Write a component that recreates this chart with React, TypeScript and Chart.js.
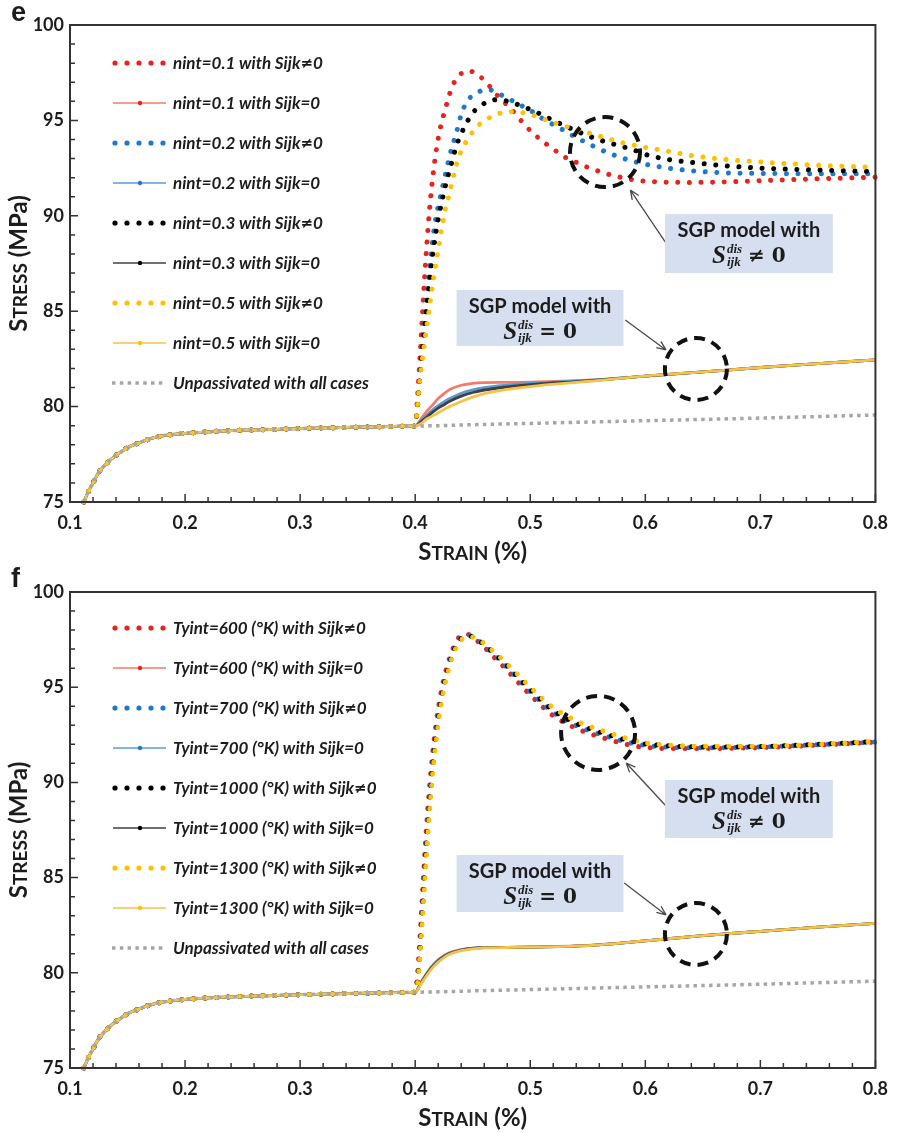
import React, { useEffect, useRef } from "react";
import { Chart, registerables } from "chart.js";

Chart.register(...registerables);

// ---------------- DATA ----------------
// common elastic/plastic part (all series, both panels)
const X_ELASTIC = [0.112, 0.116, 0.12, 0.125, 0.13, 0.135, 0.14, 0.145, 0.15, 0.16, 0.17, 0.18, 0.19, 0.2, 0.22, 0.24, 0.26, 0.28, 0.3, 0.32, 0.34, 0.36, 0.38, 0.39];
const Y_ELASTIC = [75.0, 75.55, 76.0, 76.55, 76.9, 77.2, 77.45, 77.65, 77.85, 78.1, 78.32, 78.46, 78.54, 78.6, 78.68, 78.74, 78.78, 78.81, 78.85, 78.88, 78.91, 78.93, 78.96, 78.97];

// unpassivated tail
const X_UNPASS = [0.4, 0.42, 0.45, 0.5, 0.55, 0.6, 0.65, 0.7, 0.75, 0.8];
const Y_UNPASS = [78.98, 79.0, 79.05, 79.12, 79.19, 79.26, 79.33, 79.4, 79.48, 79.56];

// Sijk = 0 tails (shared strain grid)
const X_ZERO = [0.4, 0.405, 0.41, 0.415, 0.42, 0.425, 0.43, 0.44, 0.45, 0.46, 0.48, 0.5, 0.55, 0.6, 0.65, 0.7, 0.75, 0.8];
const E_Y_N01_ZERO = [78.98, 79.35, 79.75, 80.08, 80.42, 80.68, 80.9, 81.12, 81.22, 81.26, 81.27, 81.28, 81.38, 81.6, 81.82, 82.05, 82.25, 82.45];
const E_Y_N02_ZERO = [78.98, 79.25, 79.55, 79.82, 80.05, 80.25, 80.42, 80.7, 80.88, 81.0, 81.13, 81.22, 81.37, 81.6, 81.82, 82.05, 82.25, 82.45];
const E_Y_N03_ZERO = [78.98, 79.2, 79.45, 79.7, 79.92, 80.1, 80.28, 80.55, 80.74, 80.87, 81.03, 81.15, 81.35, 81.6, 81.82, 82.05, 82.25, 82.45];
const E_Y_N05_ZERO = [78.98, 79.1, 79.35, 79.5, 79.68, 79.85, 80.0, 80.27, 80.5, 80.68, 80.9, 81.05, 81.32, 81.6, 81.82, 82.05, 82.25, 82.45];

const F_Y_T600_ZERO = [78.98, 79.5, 79.98, 80.38, 80.68, 80.9, 81.06, 81.22, 81.3, 81.33, 81.34, 81.36, 81.44, 81.68, 81.95, 82.18, 82.4, 82.6];
const F_Y_T700_ZERO = [78.98, 79.47, 79.95, 80.35, 80.65, 80.87, 81.03, 81.2, 81.29, 81.32, 81.33, 81.35, 81.43, 81.68, 81.95, 82.18, 82.4, 82.6];
const F_Y_T1000_ZERO = [78.98, 79.45, 79.92, 80.32, 80.62, 80.85, 81.01, 81.19, 81.28, 81.32, 81.33, 81.35, 81.43, 81.68, 81.95, 82.18, 82.4, 82.6];
const F_Y_T1300_ZERO = [78.98, 79.4, 79.86, 80.26, 80.56, 80.8, 80.97, 81.16, 81.26, 81.31, 81.33, 81.35, 81.43, 81.68, 81.95, 82.18, 82.4, 82.6];

// Sijk != 0 tails, panel e
const E_X_DIS = [0.4, 0.402, 0.404, 0.406, 0.408, 0.41, 0.412, 0.414, 0.416, 0.418, 0.42, 0.423, 0.426, 0.429, 0.432, 0.436, 0.44, 0.445, 0.45, 0.456, 0.462, 0.47, 0.478, 0.486, 0.494, 0.502, 0.51, 0.52, 0.53, 0.54, 0.55, 0.56, 0.57, 0.58, 0.59, 0.6, 0.62, 0.64, 0.67, 0.7, 0.75, 0.8];
const E_Y_N01_DIS = [78.98, 80.5, 82.4, 84.5, 86.6, 88.4, 90.0, 91.3, 92.4, 93.3, 94.05, 94.9, 95.55, 96.2, 96.75, 97.2, 97.45, 97.6, 97.55, 97.32, 96.98, 96.4, 95.92, 95.42, 94.85, 94.35, 93.95, 93.5, 93.08, 92.8, 92.54, 92.33, 92.14, 92.0, 91.88, 91.82, 91.76, 91.75, 91.78, 91.84, 91.94, 92.02];
const E_Y_N02_DIS = [78.98, 80.0, 81.4, 82.8, 84.2, 85.6, 86.9, 88.1, 89.1, 89.9, 90.5, 91.3, 92.1, 92.9, 93.6, 94.4, 95.3, 96.0, 96.3, 96.52, 96.63, 96.5, 96.22, 95.98, 95.72, 95.45, 95.12, 94.78, 94.45, 94.1, 93.8, 93.5, 93.25, 93.03, 92.85, 92.7, 92.5, 92.36, 92.25, 92.22, 92.2, 92.2];
const E_Y_N03_DIS = [78.98, 80.0, 81.5, 82.8, 84.0, 85.2, 86.3, 87.4, 88.3, 89.1, 89.8, 90.7, 91.5, 92.2, 92.85, 93.7, 94.3, 94.9, 95.4, 95.72, 95.96, 96.08, 96.04, 95.9, 95.72, 95.52, 95.3, 95.0, 94.72, 94.45, 94.2, 93.98, 93.8, 93.63, 93.45, 93.22, 92.95, 92.8, 92.62, 92.5, 92.4, 92.32];
const E_Y_N05_DIS = [78.98, 80.0, 81.4, 82.4, 83.3, 84.2, 85.0, 85.9, 86.7, 87.5, 88.2, 89.3, 90.3, 91.0, 91.75, 92.7, 93.4, 93.95, 94.4, 94.8, 95.05, 95.3, 95.43, 95.46, 95.4, 95.28, 95.11, 94.9, 94.7, 94.52, 94.36, 94.18, 94.0, 93.83, 93.7, 93.58, 93.38, 93.16, 92.95, 92.82, 92.65, 92.54];

// Sijk != 0 tails, panel f
const F_X_DIS = [0.4, 0.402, 0.404, 0.406, 0.408, 0.41, 0.412, 0.414, 0.416, 0.418, 0.42, 0.423, 0.426, 0.429, 0.432, 0.436, 0.44, 0.444, 0.448, 0.452, 0.457, 0.462, 0.468, 0.474, 0.48, 0.487, 0.494, 0.5, 0.507, 0.515, 0.522, 0.53, 0.54, 0.55, 0.56, 0.57, 0.58, 0.59, 0.6, 0.62, 0.65, 0.7, 0.75, 0.8];
const F_Y_T600_DIS = [78.98, 79.9, 81.7, 83.8, 85.9, 87.8, 89.4, 90.8, 92.0, 93.0, 93.85, 94.9, 95.7, 96.35, 96.9, 97.45, 97.72, 97.8, 97.72, 97.52, 97.28, 96.98, 96.6, 96.25, 95.88, 95.42, 94.96, 94.6, 94.18, 93.74, 93.42, 93.13, 92.84, 92.6, 92.4, 92.22, 92.05, 91.92, 91.84, 91.78, 91.78, 91.83, 91.96, 92.12];
const F_Y_T700_DIS = [78.98, 79.6, 81.2, 83.2, 85.2, 87.1, 88.8, 90.3, 91.6, 92.6, 93.5, 94.6, 95.45, 96.15, 96.75, 97.3, 97.62, 97.75, 97.7, 97.55, 97.35, 97.08, 96.72, 96.38, 96.02, 95.58, 95.12, 94.75, 94.35, 93.9, 93.58, 93.28, 92.98, 92.74, 92.53, 92.35, 92.18, 92.04, 91.94, 91.85, 91.82, 91.86, 91.98, 92.12];
const F_Y_T1000_DIS = [78.98, 79.5, 81.0, 82.9, 84.9, 86.8, 88.5, 90.0, 91.35, 92.4, 93.3, 94.45, 95.35, 96.05, 96.65, 97.22, 97.55, 97.7, 97.68, 97.56, 97.38, 97.14, 96.8, 96.47, 96.12, 95.68, 95.24, 94.87, 94.47, 94.02, 93.7, 93.4, 93.1, 92.86, 92.65, 92.46, 92.28, 92.13, 92.02, 91.92, 91.86, 91.88, 92.0, 92.14];
const F_Y_T1300_DIS = [78.98, 79.4, 80.8, 82.6, 84.5, 86.4, 88.1, 89.6, 91.0, 92.1, 93.05, 94.25, 95.2, 95.92, 96.55, 97.12, 97.48, 97.65, 97.66, 97.58, 97.42, 97.2, 96.88, 96.56, 96.22, 95.8, 95.37, 95.0, 94.6, 94.16, 93.84, 93.54, 93.24, 92.98, 92.77, 92.57, 92.38, 92.22, 92.08, 91.96, 91.9, 91.9, 92.0, 92.15];

const LABELS_E = [
  "nint=0.1 with Sijk≠0", "nint=0.1 with Sijk=0",
  "nint=0.2 with Sijk≠0", "nint=0.2 with Sijk=0",
  "nint=0.3 with Sijk≠0", "nint=0.3 with Sijk=0",
  "nint=0.5 with Sijk≠0", "nint=0.5 with Sijk=0",
  "Unpassivated with all cases",
];
const LABELS_F = [
  "Tyint=600 (°K) with Sijk≠0", "Tyint=600 (°K) with Sijk=0",
  "Tyint=700 (°K) with Sijk≠0", "Tyint=700 (°K) with Sijk=0",
  "Tyint=1000 (°K) with Sijk≠0", "Tyint=1000 (°K) with Sijk=0",
  "Tyint=1300 (°K) with Sijk≠0", "Tyint=1300 (°K) with Sijk=0",
  "Unpassivated with all cases",
];

const X_TICKS_MIN = 0.1, X_TICKS_MAX = 0.8, X_STEP = 0.1;
const Y_TICKS_MIN = 75, Y_TICKS_MAX = 100, Y_STEP = 5;

// ---------------- STYLE ----------------
const DOT_COLORS = ["#e8221c", "#1f78c8", "#000000", "#ffc000"];
const LINE_COLORS = ["#f47a6a", "#5b9bd5", "#404040", "#f5c24a"];
const GRAY = "#a6a6a6";
const KINDS = ["dot", "line", "dot", "line", "dot", "line", "dot", "line", "gray"];

// annotation anchors in data coordinates
const E_CIRCLES = [{ x: 0.565, y: 93.34, r: 35 }, { x: 0.644, y: 81.97, r: 31 }];
const E_BOXES = [{ x1: 0.617, x2: 0.763, y1: 90.09, y2: 87.0, op: "≠" }, { x1: 0.436, x2: 0.581, y1: 86.11, y2: 83.18, op: "=" }];
const E_ARROWS = [{ x1: 0.618, y1: 88.57, x2: 0.587, y2: 91.35 }, { x1: 0.5826, y1: 84.54, x2: 0.618, y2: 82.97 }];
const F_CIRCLES = [{ x: 0.559, y: 92.6, r: 37 }, { x: 0.644, y: 82.04, r: 31 }];
const F_BOXES = [{ x1: 0.617, x2: 0.763, y1: 90.13, y2: 87.08, op: "≠" }, { x1: 0.436, x2: 0.581, y1: 86.19, y2: 83.19, op: "=" }];
const F_ARROWS = [{ x1: 0.618, y1: 88.76, x2: 0.5834, y2: 91.02 }, { x1: 0.5817, y1: 84.72, x2: 0.618, y2: 83.04 }];

const pts = (xs: number[], ys: number[]) => xs.map((x, i) => ({ x, y: ys[i] }));
const withElastic = (xs: number[], ys: number[]) => pts(X_ELASTIC, Y_ELASTIC).concat(pts(xs, ys));

function dotted(label: string, color: string, data: any[]) {
  return {
    label, data, borderColor: color, backgroundColor: color, borderWidth: 5,
    borderDash: [0.01, 11.6], borderCapStyle: "round", pointRadius: 0, pointHoverRadius: 0,
    showLine: true, fill: false, cubicInterpolationMode: "monotone", clip: 6,
  };
}
function solid(label: string, color: string, data: any[]) {
  return {
    label, data, borderColor: color, backgroundColor: color, borderWidth: 2.8,
    pointRadius: 0, pointHoverRadius: 0, showLine: true, fill: false, cubicInterpolationMode: "monotone", clip: 6,
  };
}
function grayDots(label: string, data: any[]) {
  return {
    label, data, borderColor: GRAY, backgroundColor: GRAY, borderWidth: 3.5,
    borderDash: [3.5, 4.3], borderCapStyle: "butt", pointRadius: 0, pointHoverRadius: 0,
    showLine: true, fill: false, cubicInterpolationMode: "monotone", clip: 6,
  };
}

function buildE() {
  const ds: any[] = [
    dotted(LABELS_E[0], DOT_COLORS[0], withElastic(E_X_DIS, E_Y_N01_DIS)),
    solid(LABELS_E[1], LINE_COLORS[0], withElastic(X_ZERO, E_Y_N01_ZERO)),
    dotted(LABELS_E[2], DOT_COLORS[1], withElastic(E_X_DIS, E_Y_N02_DIS)),
    solid(LABELS_E[3], LINE_COLORS[1], withElastic(X_ZERO, E_Y_N02_ZERO)),
    dotted(LABELS_E[4], DOT_COLORS[2], withElastic(E_X_DIS, E_Y_N03_DIS)),
    solid(LABELS_E[5], LINE_COLORS[2], withElastic(X_ZERO, E_Y_N03_ZERO)),
    dotted(LABELS_E[6], DOT_COLORS[3], withElastic(E_X_DIS, E_Y_N05_DIS)),
    solid(LABELS_E[7], LINE_COLORS[3], withElastic(X_ZERO, E_Y_N05_ZERO)),
    grayDots(LABELS_E[8], withElastic(X_UNPASS, Y_UNPASS)),
  ];
  ds.forEach((d, i) => (d.order = -i));
  return ds;
}
function buildF() {
  const ds: any[] = [
    dotted(LABELS_F[0], DOT_COLORS[0], withElastic(F_X_DIS, F_Y_T600_DIS)),
    solid(LABELS_F[1], LINE_COLORS[0], withElastic(X_ZERO, F_Y_T600_ZERO)),
    dotted(LABELS_F[2], DOT_COLORS[1], withElastic(F_X_DIS, F_Y_T700_DIS)),
    solid(LABELS_F[3], LINE_COLORS[1], withElastic(X_ZERO, F_Y_T700_ZERO)),
    dotted(LABELS_F[4], DOT_COLORS[2], withElastic(F_X_DIS, F_Y_T1000_DIS)),
    solid(LABELS_F[5], LINE_COLORS[2], withElastic(X_ZERO, F_Y_T1000_ZERO)),
    dotted(LABELS_F[6], DOT_COLORS[3], withElastic(F_X_DIS, F_Y_T1300_DIS)),
    solid(LABELS_F[7], LINE_COLORS[3], withElastic(X_ZERO, F_Y_T1300_ZERO)),
    grayDots(LABELS_F[8], withElastic(X_UNPASS, Y_UNPASS)),
  ];
  ds.forEach((d, i) => (d.order = -i));
  return ds;
}

const TEXT = "#1c1c1c";
const TITLE_FONT = "Lato";
const LEGEND_FONT = `italic bold 17px ${TITLE_FONT}`;
const NEQ_FONT = 'oblique bold 15px "DejaVu Sans"';

function drawCaps(ctx: CanvasRenderingContext2D, parts: { t: string; s: number }[], cx: number, cy: number, rot: number) {
  ctx.save();
  ctx.translate(cx, cy);
  ctx.rotate(rot);
  const widths = parts.map((p) => {
    ctx.font = `bold ${p.s}px ${TITLE_FONT}`;
    return ctx.measureText(p.t).width;
  });
  const total = widths.reduce((a, b) => a + b, 0);
  let x = -total / 2;
  const big = Math.max(...parts.map((p) => p.s));
  ctx.fillStyle = TEXT;
  ctx.textAlign = "left";
  ctx.textBaseline = "alphabetic";
  parts.forEach((p, i) => {
    ctx.font = `bold ${p.s}px ${TITLE_FONT}`;
    ctx.fillText(p.t, x, big * 0.36);
    x += widths[i];
  });
  ctx.restore();
}

function drawLegendText(ctx: CanvasRenderingContext2D, text: string, x: number, y: number) {
  const segs = text.split("≠");
  ctx.textAlign = "left";
  ctx.textBaseline = "middle";
  ctx.fillStyle = TEXT;
  segs.forEach((s, i) => {
    ctx.font = LEGEND_FONT;
    ctx.fillText(s, x, y);
    x += ctx.measureText(s).width;
    if (i < segs.length - 1) {
      ctx.font = NEQ_FONT;
      ctx.fillText("≠", x, y);
      x += ctx.measureText("≠").width;
    }
  });
}

function drawMathBox(ctx: CanvasRenderingContext2D, b: any, xs: any, ys: any) {
  const x1 = xs.getPixelForValue(b.x1), x2 = xs.getPixelForValue(b.x2);
  const y1 = ys.getPixelForValue(b.y1), y2 = ys.getPixelForValue(b.y2);
  ctx.fillStyle = "#d6dff0";
  ctx.fillRect(x1, y1, x2 - x1, y2 - y1);
  const cx = (x1 + x2) / 2;
  ctx.fillStyle = TEXT;
  ctx.textAlign = "center";
  ctx.textBaseline = "alphabetic";
  ctx.font = `bold 20px ${TITLE_FONT}`;
  ctx.fillText("SGP model with", cx, y1 + 23);
  const fS = 'italic bold 25px "Liberation Serif"';
  const fSm = 'italic bold 13px "Liberation Serif"';
  const fOp = 'bold 20px "DejaVu Serif"';
  ctx.textAlign = "left";
  ctx.font = fS; const wS = ctx.measureText("S").width;
  ctx.font = fSm; const wSup = Math.max(ctx.measureText("dis").width, ctx.measureText("ijk").width);
  ctx.font = fOp; const opTxt = b.op + " 0"; const wOp = ctx.measureText(opTxt).width;
  const gap = 6;
  const total = wS + 1 + wSup + gap + wOp;
  let x = cx - total / 2;
  const base = y1 + 49;
  ctx.font = fS; ctx.fillText("S", x, base); x += wS + 1;
  ctx.font = fSm; ctx.fillText("dis", x, base - 10); ctx.fillText("ijk", x, base + 3);
  x += wSup + gap;
  ctx.font = fOp; ctx.fillText(opTxt, x, base - 1);
}

function makeDecor(cfg: any) {
  return {
    id: "decor" + cfg.letter,
    afterDraw(chart: any) {
      const { ctx, chartArea: a, scales } = chart;
      const xs = scales.x, ys = scales.y;
      ctx.save();
      // frame
      ctx.strokeStyle = "#333";
      ctx.lineWidth = 2;
      ctx.setLineDash([]);
      ctx.strokeRect(a.left, a.top, a.right - a.left, a.bottom - a.top);
      // inward ticks
      ctx.lineWidth = 1.5;
      ctx.beginPath();
      for (let k = 0; k <= 35; k++) {
        const px = xs.getPixelForValue(X_TICKS_MIN + k * 0.02);
        const len = k % 5 === 0 ? 8 : 5;
        ctx.moveTo(px, a.bottom);
        ctx.lineTo(px, a.bottom - len);
      }
      for (let k = 0; k <= 25; k++) {
        const py = ys.getPixelForValue(Y_TICKS_MIN + k);
        const len = k % 5 === 0 ? 8 : 5;
        ctx.moveTo(a.left, py);
        ctx.lineTo(a.left + len, py);
      }
      ctx.stroke();

      // axis titles
      drawCaps(ctx, [{ t: "S", s: 24 }, { t: "TRESS", s: 19 }, { t: " (MPa)", s: 24 }], 18, (a.top + a.bottom) / 2, -Math.PI / 2);
      drawCaps(ctx, [{ t: "S", s: 24 }, { t: "TRAIN", s: 19 }, { t: " (%)", s: 24 }], (a.left + a.right) / 2, a.bottom + 49, 0);

      // panel letter
      ctx.fillStyle = TEXT;
      ctx.font = 'bold 27px "Liberation Sans"';
      ctx.textAlign = "left";
      ctx.textBaseline = "alphabetic";
      ctx.fillText(cfg.letter, 11, cfg.letterY);

      // legend
      const dsets = chart.data.datasets;
      dsets.forEach((d: any, i: number) => {
        const y = a.top + cfg.legendTop + i * 40;
        const x0 = a.left + 45;
        const kind = KINDS[i];
        ctx.fillStyle = d.borderColor;
        ctx.strokeStyle = d.borderColor;
        if (kind === "dot") {
          for (let k = 0; k < 5; k++) {
            ctx.beginPath();
            ctx.arc(x0 + k * 12, y, 2.6, 0, Math.PI * 2);
            ctx.fill();
          }
        } else if (kind === "line") {
          ctx.lineWidth = 1.6;
          ctx.beginPath();
          ctx.moveTo(x0 - 2, y);
          ctx.lineTo(x0 + 51, y);
          ctx.stroke();
          ctx.fillStyle = DOT_COLORS[(i - 1) / 2];
          ctx.beginPath();
          ctx.arc(x0 + 25, y, 2.2, 0, Math.PI * 2);
          ctx.fill();
        } else {
          for (let k = 0; k < 7; k++) ctx.fillRect(x0 - 3 + k * 7.8, y - 1.75, 3.5, 3.5);
        }
        drawLegendText(ctx, d.label, a.left + 103, y + 1);
      });

      // annotations: arrows
      ctx.strokeStyle = "#4a4a4a";
      ctx.lineWidth = 1.3;
      cfg.arrows.forEach((ar: any) => {
        const px1 = xs.getPixelForValue(ar.x1), py1 = ys.getPixelForValue(ar.y1);
        const px2 = xs.getPixelForValue(ar.x2), py2 = ys.getPixelForValue(ar.y2);
        ctx.beginPath();
        ctx.moveTo(px1, py1);
        ctx.lineTo(px2, py2);
        const ang = Math.atan2(py2 - py1, px2 - px1);
        const L = 10;
        ctx.moveTo(px2, py2);
        ctx.lineTo(px2 - L * Math.cos(ang - 0.4), py2 - L * Math.sin(ang - 0.4));
        ctx.moveTo(px2, py2);
        ctx.lineTo(px2 - L * Math.cos(ang + 0.4), py2 - L * Math.sin(ang + 0.4));
        ctx.stroke();
      });
      // boxes
      cfg.boxes.forEach((b: any) => drawMathBox(ctx, b, xs, ys));
      // dashed circles
      ctx.strokeStyle = "#111";
      ctx.lineWidth = 4;
      ctx.setLineDash([11, 7]);
      cfg.circles.forEach((c: any) => {
        ctx.beginPath();
        ctx.arc(xs.getPixelForValue(c.x), ys.getPixelForValue(c.y), c.r, 0, Math.PI * 2);
        ctx.stroke();
      });
      ctx.restore();
    },
  };
}

function Panel({ cfg }: { cfg: any }) {
  const ref = useRef<HTMLCanvasElement | null>(null);
  useEffect(() => {
    if (!ref.current) return;
    const tickFont = { family: TITLE_FONT, size: 18, weight: "bold" as const };
    const chart = new Chart(ref.current, {
      type: "scatter",
      data: { datasets: cfg.datasets },
      options: {
        animation: false,
        responsive: false,
        devicePixelRatio: 1,
        events: [],
        layout: { padding: { left: 0, top: cfg.top, right: 20, bottom: cfg.height - 502 - 28 } },
        plugins: { legend: { display: false }, tooltip: { enabled: false } },
        scales: {
          x: {
            type: "linear",
            min: X_TICKS_MIN,
            max: X_TICKS_MAX,
            afterFit: (s: any) => { s.height = 28; },
            grid: { display: false, drawTicks: false },
            border: { display: false },
            ticks: { stepSize: X_STEP, padding: 10, font: tickFont, color: TEXT, callback: (v: any) => Number(v).toFixed(1) },
          },
          y: {
            type: "linear",
            min: Y_TICKS_MIN,
            max: Y_TICKS_MAX,
            afterFit: (s: any) => { s.width = 70; },
            grid: { display: false, drawTicks: false },
            border: { display: false },
            ticks: { stepSize: Y_STEP, padding: 6, font: tickFont, color: TEXT },
          },
        },
      } as any,
      plugins: [makeDecor(cfg)],
    });
    return () => chart.destroy();
  }, []);
  return <canvas ref={ref} width={898} height={cfg.height} style={{ display: "block", width: 898, height: cfg.height }} />;
}

export default function App() {
  const cfgE = { letter: "e", letterY: 21, top: 25, height: 566, legendTop: 38, datasets: buildE(), circles: E_CIRCLES, boxes: E_BOXES, arrows: E_ARROWS };
  const cfgF = { letter: "f", letterY: 21, top: 26, height: 567, legendTop: 36, datasets: buildF(), circles: F_CIRCLES, boxes: F_BOXES, arrows: F_ARROWS };
  return (
    <div style={{ position: "absolute", left: 0, top: 0, width: 898, height: 1133, background: "#fff" }}>
      <Panel cfg={cfgE} />
      <Panel cfg={cfgF} />
    </div>
  );
}
